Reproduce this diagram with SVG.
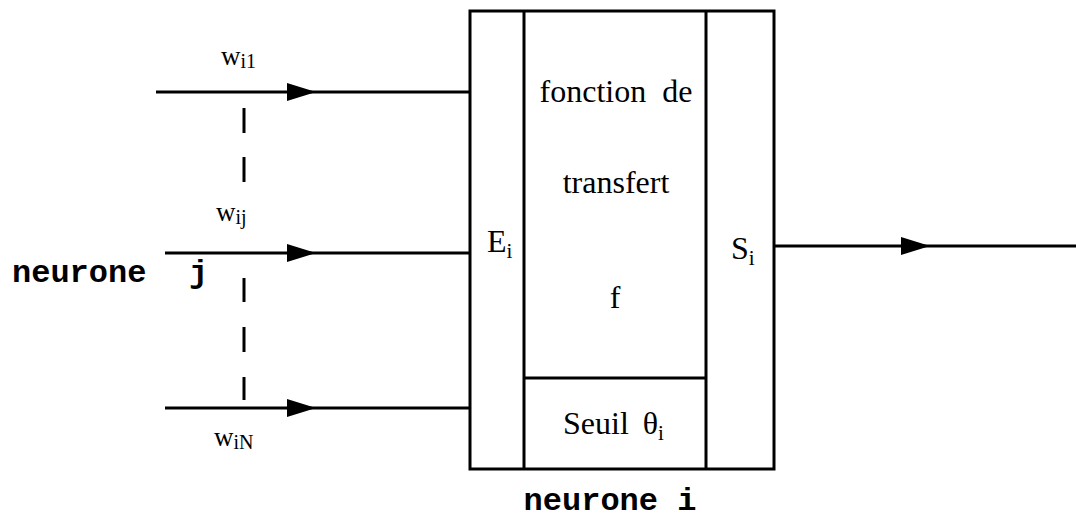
<svg xmlns="http://www.w3.org/2000/svg" width="1076" height="520" viewBox="0 0 1076 520">
<style>
.ln{stroke:#000;stroke-width:3;fill:none}
.tx{font-family:"Liberation Serif",serif;font-size:32px;fill:#000}
.w{font-family:"Liberation Serif",serif;font-size:27px;fill:#000}
.mono{font-family:"Liberation Mono",monospace;font-weight:bold;font-size:32px;fill:#000}
</style>
<defs>
<marker id="ah" markerWidth="30" markerHeight="20" refX="0" refY="9" markerUnits="userSpaceOnUse" orient="auto">
<path d="M0,0 L29,9 L0,18 Z" fill="#000"/>
</marker>
</defs>
<rect width="1076" height="520" fill="#fff"/>
<g id="neurone-i">
<rect class="ln" x="470" y="11" width="304" height="458"/>
<line class="ln" x1="524" y1="11" x2="524" y2="469"/>
<line class="ln" x1="706" y1="11" x2="706" y2="469"/>
<line class="ln" x1="524" y1="378" x2="706" y2="378"/>
<text class="tx" x="487" y="252">E<tspan font-size="21" dy="6">i</tspan></text>
<text class="tx" x="616" y="102" text-anchor="middle" word-spacing="8">fonction de</text>
<text class="tx" x="616" y="193" text-anchor="middle">transfert</text>
<text class="tx" x="615" y="308" text-anchor="middle">f</text>
<text class="tx" x="563" y="434" word-spacing="6">Seuil θ<tspan font-size="21" dy="6">i</tspan></text>
<text class="tx" x="731" y="259">S<tspan font-size="21" dy="6">i</tspan></text>
<text class="mono" x="610" y="510" text-anchor="middle">neurone i</text>
</g>
<g id="neurone-j">
<text class="mono" x="12" y="282">neurone</text>
<text class="mono" x="189" y="282">j</text>
<text class="w" x="221" y="65">w<tspan font-size="20" dy="3">i1</tspan></text>
<text class="w" x="216" y="221">w<tspan font-size="20" dy="3">ij</tspan></text>
<text class="w" x="214" y="446">w<tspan font-size="20" dy="3">iN</tspan></text>
</g>
<g id="connectors">
<line class="ln" x1="156" y1="92" x2="287" y2="92" marker-end="url(#ah)"/>
<line class="ln" x1="287" y1="92" x2="470" y2="92"/>
<line class="ln" x1="165" y1="253" x2="287" y2="253" marker-end="url(#ah)"/>
<line class="ln" x1="287" y1="253" x2="470" y2="253"/>
<line class="ln" x1="165" y1="408" x2="287" y2="408" marker-end="url(#ah)"/>
<line class="ln" x1="287" y1="408" x2="470" y2="408"/>
<line class="ln" x1="774" y1="246" x2="901" y2="246" marker-end="url(#ah)"/>
<line class="ln" x1="901" y1="246" x2="1076" y2="246"/>
<line class="ln" x1="244" y1="108" x2="244" y2="133"/>
<line class="ln" x1="244" y1="157" x2="244" y2="182"/>
<line class="ln" x1="244" y1="278" x2="244" y2="302"/>
<line class="ln" x1="244" y1="327" x2="244" y2="352"/>
<line class="ln" x1="244" y1="377" x2="244" y2="400"/>
</g>
</svg>
